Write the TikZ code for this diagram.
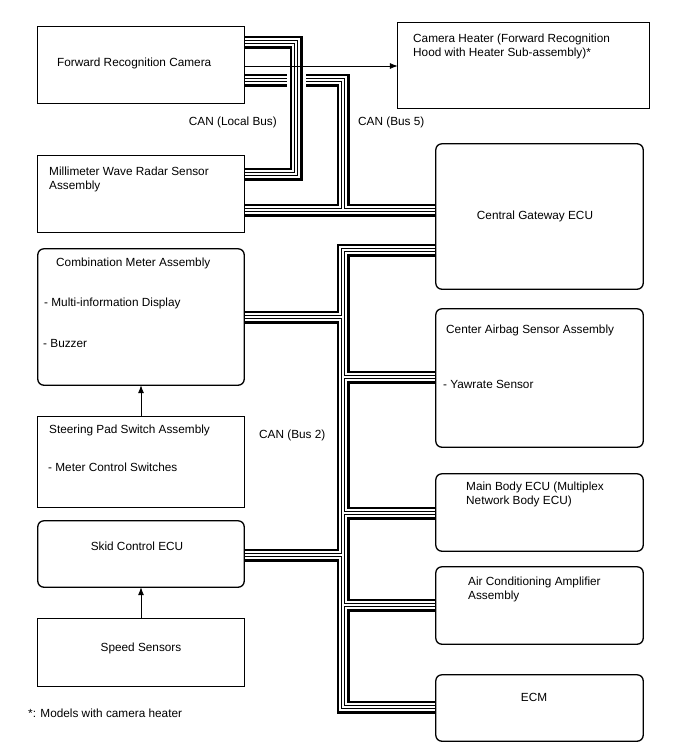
\documentclass[tikz,border=0pt]{standalone}
\usepackage{fontspec}
\setmainfont{Liberation Sans}
\usetikzlibrary{arrows.meta}
\begin{document}
\begin{tikzpicture}[x=1pt,y=-1pt,
  font=\fontsize{11.8}{14}\selectfont,
  sqbox/.style={draw, line width=1.3pt, inner sep=0pt},
  rdbox/.style={draw, line width=1.3pt, inner sep=0pt, rounded corners=6pt},
  lbl/.style={inner sep=0pt, text height=8.5pt, text depth=0pt},
  mlbl/.style={inner sep=0pt, align=left, anchor=north west},
  bus/.style={line width=13pt, draw=black,
    postaction={draw=white, line width=8pt,
      postaction={draw=black, line width=4pt,
        postaction={draw=white, line width=2pt}}}},
  gap/.style={line width=19pt, draw=white},
  arr/.style={draw, line width=0.8pt, -{Latex[length=8pt,width=6pt]}}]

\fill[white] (0,0) rectangle (688,755);
\useasboundingbox (0,0) rectangle (688,755);

% boxes (placed first as nodes, drawn on top later)
\path
  node[minimum width=206pt, minimum height=76pt]  (cam)     at (141,65) {}
  node[minimum width=251pt, minimum height=85pt]  (heater)  at (523.5,65.5) {}
  node[minimum width=206pt, minimum height=76pt]  (radar)   at (141,194) {}
  node[minimum width=207pt, minimum height=145pt] (central) at (539.5,216.5) {}
  node[minimum width=206pt, minimum height=136pt] (meter)   at (141,317) {}
  node[minimum width=207pt, minimum height=138pt] (airbag)  at (539.5,378) {}
  node[minimum width=206pt, minimum height=90pt]  (steer)   at (141,462) {}
  node[minimum width=207pt, minimum height=77pt]  (mainb)   at (539.5,512.5) {}
  node[minimum width=206pt, minimum height=66pt]  (skid)    at (141,554) {}
  node[minimum width=207pt, minimum height=77pt]  (aircon)  at (539.5,605.5) {}
  node[minimum width=206pt, minimum height=67pt]  (speed)   at (141,652.5) {}
  node[minimum width=207pt, minimum height=66pt]  (ecm)     at (539.5,708) {};

% bus junction points
\coordinate (lb1) at (296,42);
\coordinate (lb2) at (296,174);
\coordinate (b5a) at (343,80);
\coordinate (b5j) at (343,210);
\coordinate (b2t) at (343,250);
\coordinate (b2b) at (343,707);
\coordinate (j317) at (343,317);
\coordinate (j377) at (343,377);
\coordinate (j513) at (343,513);
\coordinate (j555) at (343,555);
\coordinate (j605) at (343,605);

% CAN (Bus 5)
\draw[bus] (cam.east |- b5a) -- (b5a) -- (b5j)
           (radar.east |- b5j) -- (central.west |- b5j);
% CAN (Local Bus), crossing over Bus 5
\draw[gap] (lb1) -- (lb2);
\draw[bus] (cam.east |- lb1) -- (lb1) -- (lb2) -- (radar.east |- lb2);
% CAN (Bus 2)
\draw[bus] (central.west |- b2t) -- (b2t) -- (b2b) -- (ecm.west |- b2b)
           (meter.east |- j317) -- (j317)
           (skid.east |- j555) -- (j555)
           (j377) -- (airbag.west |- j377)
           (j513) -- (mainb.west |- j513)
           (j605) -- (aircon.west |- j605);

% box outlines
\draw[sqbox] (cam.north west) rectangle (cam.south east);
\draw[sqbox] (heater.north west) rectangle (heater.south east);
\draw[sqbox] (radar.north west) rectangle (radar.south east);
\draw[rdbox] (central.north west) rectangle (central.south east);
\draw[rdbox] (meter.north west) rectangle (meter.south east);
\draw[rdbox] (airbag.north west) rectangle (airbag.south east);
\draw[sqbox] (steer.north west) rectangle (steer.south east);
\draw[rdbox] (mainb.north west) rectangle (mainb.south east);
\draw[rdbox] (skid.north west) rectangle (skid.south east);
\draw[rdbox] (aircon.north west) rectangle (aircon.south east);
\draw[sqbox] (speed.north west) rectangle (speed.south east);
\draw[rdbox] (ecm.north west) rectangle (ecm.south east);

% arrows
\coordinate (ha) at (0,66);
\draw[arr] (cam.east |- ha) -- (heater.west |- ha);
\draw[arr] (steer.north) -- (meter.south);
\draw[arr] (speed.north) -- (skid.south);

% texts
\node[lbl, anchor=west] (tcam) at (57,62) {Forward Recognition Camera};
\node[mlbl] (theat) at (413,33.7) {Camera Heater (Forward Recognition\\Hood with Heater Sub-assembly)*};
\node[mlbl] (trad) at (49,166.7) {Millimeter Wave Radar Sensor\\Assembly};
\node[lbl] (tcen) at (535,215) {Central Gateway ECU};
\node[lbl, anchor=west] (tmet1) at (56,262) {Combination Meter Assembly};
\node[lbl, anchor=west] (tmet2) at (44,302) {- Multi-information Display};
\node[lbl, anchor=west] (tmet3) at (43,343) {- Buzzer};
\node[lbl, anchor=west] (tair1) at (446,329) {Center Airbag Sensor Assembly};
\node[lbl, anchor=west] (tair2) at (443,384) {- Yawrate Sensor};
\node[lbl, anchor=west] (tst1) at (49,429) {Steering Pad Switch Assembly};
\node[lbl, anchor=west] (tst2) at (48,467) {- Meter Control Switches};
\node[mlbl] (tmain) at (466,481.7) {Main Body ECU (Multiplex\\Network Body ECU)};
\node[lbl] (tskid) at (137,546) {Skid Control ECU};
\node[mlbl] (tac) at (468,576.7) {Air Conditioning Amplifier\\Assembly};
\node[lbl] (tspd) at (141,647) {Speed Sensors};
\node[lbl] (tecm) at (534,697) {ECM};
\node[lbl, anchor=west] (tfoot) at (28,713) {*: Models with camera heater};
\node[lbl, anchor=east] (tlb) at (277,121) {CAN (Local Bus)};
\node[lbl, anchor=west] (tb5) at (358,121) {CAN (Bus 5)};
\node[lbl, anchor=west] (tb2) at (259,434) {CAN (Bus 2)};
\end{tikzpicture}
\end{document}
